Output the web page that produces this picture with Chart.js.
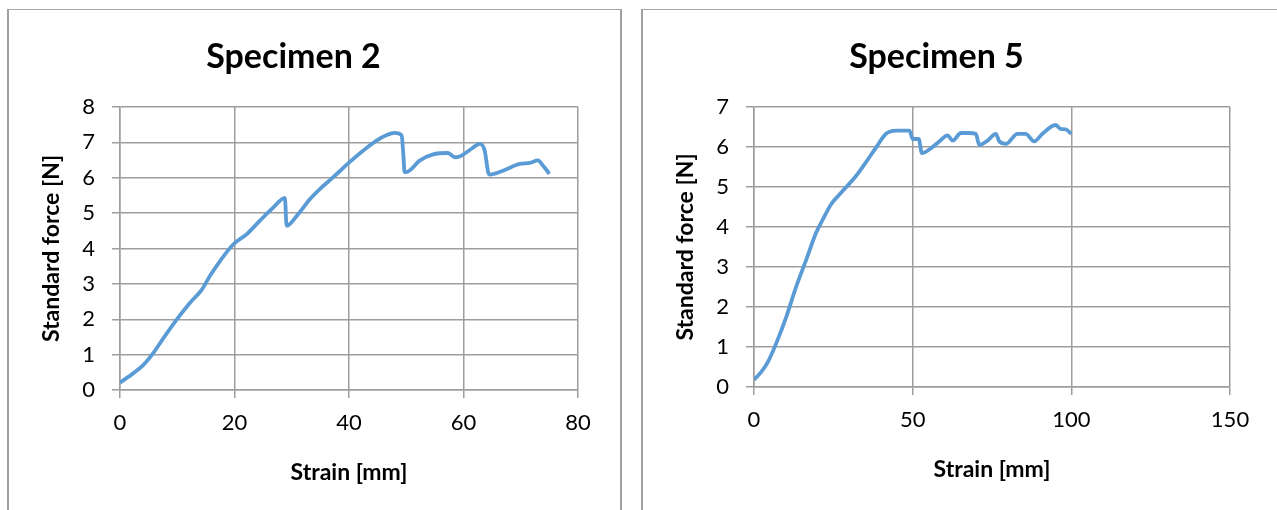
<!DOCTYPE html>
<html>
<head>
<meta charset="utf-8">
<script src="https://cdn.jsdelivr.net/npm/chart.js@4.4.1/dist/chart.umd.min.js"></script>
<style>
  html, body { margin: 0; padding: 0; background: #fff; width: 1277px; height: 510px; overflow: hidden; }
  .box { position: absolute; top: 9px; border-top: 1px solid #a6a6a6; border-left: 2px solid #a0a0a0; border-right: 2px solid #a0a0a0; background: #fff; }
  #box1 { left: 7px; width: 611px; height: 520px; }
  #box2 { left: 641px; width: 634px; height: 520px; border-right: none; }
  canvas { display: block; }
</style>
</head>
<body>
<div class="box" id="box1"><canvas id="c1" width="611" height="500" style="width:611px;height:500px"></canvas></div>
<div class="box" id="box2"><canvas id="c2" width="634" height="500" style="width:634px;height:500px"></canvas></div>
<script>
// ---- Data ----
const titles = ["Specimen 2", "Specimen 5"];
const xAxisTitle = "Strain [mm]";
const yAxisTitle = "Standard force [N]";

const strain2 = [0, 2.3, 4.1, 5.8, 7.6, 9.9, 12.2, 14.3, 15.7, 17.5, 19.8, 22.1, 24.4, 26.8, 28.8, 29.1, 31.1, 33.2, 34.9, 37.2, 40.1, 42.5, 44.8, 46.5, 48.0, 49.2, 49.5, 49.7, 50.0, 52.4, 54.7, 57.3, 58.5, 59.3, 61.4, 62.8, 63.7, 64.3, 64.6, 66.9, 69.8, 71.6, 73.0, 73.9, 74.5, 75.0];
const force2  = [0.21, 0.47, 0.71, 1.04, 1.47, 1.99, 2.46, 2.84, 3.22, 3.65, 4.12, 4.40, 4.78, 5.16, 5.43, 4.64, 4.97, 5.40, 5.68, 6.01, 6.44, 6.77, 7.05, 7.20, 7.27, 7.20, 6.63, 6.16, 6.16, 6.49, 6.66, 6.70, 6.58, 6.60, 6.82, 6.96, 6.77, 6.16, 6.09, 6.20, 6.39, 6.42, 6.49, 6.34, 6.22, 6.11];

const strain5 = [0, 2.3, 4.4, 7.0, 10.2, 13.3, 16.5, 19.6, 21.7, 24.3, 27.5, 32.2, 35.3, 38.5, 41.6, 44.8, 46.9, 49.0, 50.0, 51.9, 52.9, 55.8, 58.4, 61.0, 62.6, 65.2, 67.8, 69.9, 71.0, 73.6, 76.2, 77.3, 79.4, 83.0, 85.6, 88.3, 90.9, 95.1, 96.6, 98.2, 100];
const force5  = [0.18, 0.38, 0.63, 1.09, 1.76, 2.51, 3.19, 3.86, 4.19, 4.57, 4.86, 5.28, 5.62, 5.99, 6.33, 6.41, 6.41, 6.41, 6.20, 6.20, 5.85, 5.97, 6.14, 6.29, 6.16, 6.35, 6.35, 6.33, 6.05, 6.16, 6.33, 6.14, 6.08, 6.33, 6.33, 6.14, 6.33, 6.55, 6.45, 6.44, 6.33];

const xRange2 = [0, 80, 20];
const yRange2 = [0, 8, 1];
const xRange5 = [0, 150, 50];
const yRange5 = [0, 7, 1];

// ---- Styling ----
const LINE = '#5B9BD5';
const GRID = '#9d9d9d';
const FONT = 'Lato, "Open Sans", sans-serif';

function makeChart(id, title, xs, ys, xr, yr, geo) {
  const pts = xs.map((x, i) => ({ x: x, y: ys[i] }));
  return new Chart(document.getElementById(id), {
    type: 'line',
    data: { datasets: [{ data: pts, borderColor: LINE, borderWidth: 3.8, pointRadius: 0, cubicInterpolationMode: 'monotone', fill: false }] },
    options: {
      responsive: false, animation: false, devicePixelRatio: 1,
      layout: { padding: { left: 0, top: 0, right: geo.right, bottom: 0 } },
      plugins: {
        legend: { display: false }, tooltip: { enabled: false },
        title: { display: true, text: title, color: '#000', font: { family: FONT, size: 34, weight: 'bold', lineHeight: 1.2 }, padding: { top: geo.titleTop, bottom: geo.titleBottom } }
      },
      scales: {
        x: {
          type: 'linear', min: xr[0], max: xr[1],
          ticks: { stepSize: xr[2], color: '#000', font: { family: FONT, size: 22 }, padding: geo.xTickPad, maxRotation: 0 },
          grid: { color: GRID, lineWidth: 1.5, tickLength: 8, tickColor: GRID },
          border: { color: GRID, width: 1.5 },
          title: { display: true, text: xAxisTitle, color: '#000', font: { family: FONT, size: 23, weight: 'bold', lineHeight: 1.2 }, padding: { top: 0, bottom: geo.xTitleBottom } },
          afterFit: (s) => { s.height = geo.xHeight; }
        },
        y: {
          type: 'linear', min: yr[0], max: yr[1],
          ticks: { stepSize: yr[2], color: '#000', font: { family: FONT, size: 22 }, padding: 17 },
          grid: { color: GRID, lineWidth: 1.5, tickLength: 8, tickColor: GRID },
          border: { color: GRID, width: 1.5 },
          title: { display: true, text: yAxisTitle, color: '#000', font: { family: FONT, size: 23, weight: 'bold', lineHeight: 1.2 }, padding: { top: geo.yTitleTop, bottom: 0 } },
          afterFit: (s) => { s.width = 111; }
        }
      }
    }
  });
}

// Chart 1: canvas at page (9,10); plot area page x 120..578, y 108..390
makeChart('c1', titles[0], strain2, force2, xRange2, yRange2,
  { right: 611 - 569, titleTop: 27, titleBottom: 29.2, xHeight: 500 - 380, xTickPad: 12, xTitleBottom: 24, yTitleTop: 29 });
// Chart 2: canvas at page (643,10); plot area page x 755..1230, y 108..387
makeChart('c2', titles[1], strain5, force5, xRange5, yRange5,
  { right: 634 - 587, titleTop: 27, titleBottom: 29.2, xHeight: 500 - 377, xTickPad: 12, xTitleBottom: 27, yTitleTop: 29 });
</script>
</body>
</html>
